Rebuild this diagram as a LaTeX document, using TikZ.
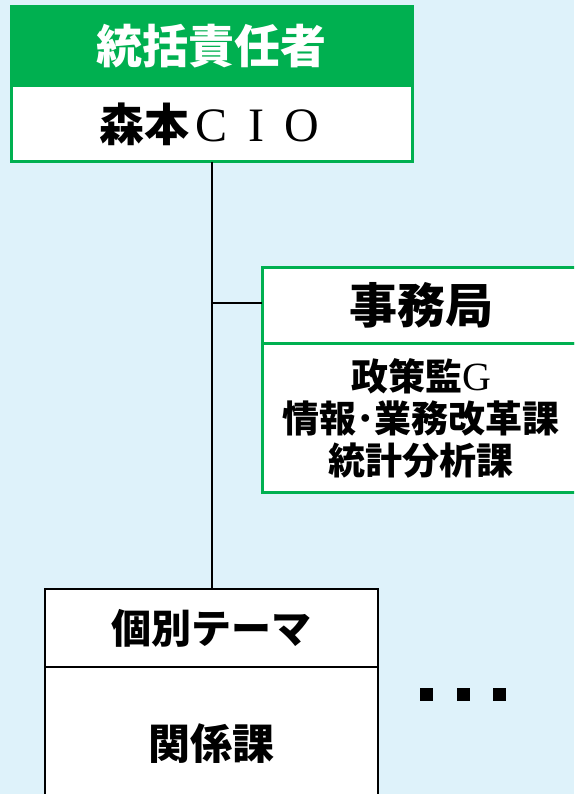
\documentclass[tikz,border=0pt]{standalone}
\usepackage{fontspec}
\newfontfamily\jp{Noto Sans CJK JP}
\newfontfamily\lserif{Liberation Serif}
\definecolor{offgreen}{RGB}{0,176,80}
\definecolor{bgblue}{RGB}{222,242,250}
\tikzset{
  box/.style={rectangle, inner sep=0pt, outer sep=0pt, align=center, font=\jp\bfseries},
  greenbox/.style={box, draw=offgreen, line width=3pt, fill=white},
  blackbox/.style={box, draw=black, line width=2pt, fill=white},
  conn/.style={draw=black, line width=2pt},
  sq/.style={rectangle, fill=black, minimum size=13pt, inner sep=0pt}
}
\newcommand{\fw}[1]{\makebox[1em]{\lserif\mdseries\fontsize{48}{48}\selectfont #1}}
\begin{document}
\begin{tikzpicture}[x=1pt,y=-1pt]
\path[use as bounding box, fill=bgblue] (0,0) rectangle (574,794);
\begin{scope}
\clip (0,0) rectangle (574,794);
\node[greenbox, fill=offgreen, text=white, minimum width=401pt, minimum height=79pt,
      font=\jp\bfseries\fontsize{46}{48}\selectfont] (head) at (211.5,46.5) {統括責任者};
\node[greenbox, minimum width=401pt, minimum height=76pt,
      font=\jp\bfseries\fontsize{45}{48}\selectfont] (cio) at (211.5,124) {森本\fw{C}\fw{I}\fw{O}};
\node[blackbox, minimum width=333pt, minimum height=78pt,
      font=\jp\bfseries\fontsize{40}{44}\selectfont] (theme) at (211.5,628) {個別テーマ};
\node[blackbox, minimum width=333pt, minimum height=153pt,
      font=\jp\bfseries\fontsize{42}{44}\selectfont] (kankei) at (211.5,743.5) {関係課};
\node[greenbox, minimum width=318pt, minimum height=76pt,
      font=\jp\bfseries\fontsize{48}{50}\selectfont] (jimu) at (421,305) {事務局};
\node[greenbox, minimum width=318pt, minimum height=149pt,
      font=\jp\bfseries\fontsize{37}{42}\selectfont] (jimubody) at (421,418)
      {政策監{\lserif\mdseries\fontsize{40}{40}\selectfont G}\\情報･業務改革課\\統計分析課};
\draw[conn] (cio.south) -- (theme.north);
\coordinate (br) at (211.5,303);
\draw[conn] (br) -- (br -| jimu.west);
\node[sq] (d1) at (426,694) {};
\node[sq] (d2) at (463,694) {};
\node[sq] (d3) at (499,694) {};
\end{scope}
\end{tikzpicture}
\end{document}
